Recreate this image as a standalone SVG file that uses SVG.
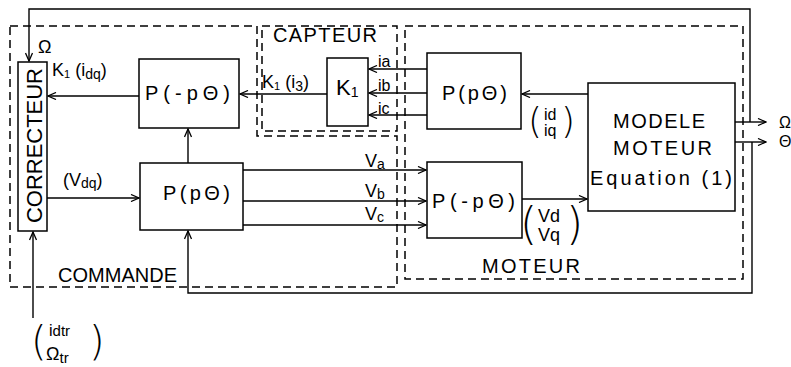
<svg xmlns="http://www.w3.org/2000/svg" width="791" height="367" viewBox="0 0 791 367" font-size="20">
<defs>
<marker id="ar" markerWidth="10" markerHeight="8" refX="9" refY="4" orient="auto" markerUnits="userSpaceOnUse"><path d="M1,0.5 L9,4 L1,7.5" fill="none" stroke="#000" stroke-width="1.3"/></marker>
</defs>
<style>
.b{fill:#fff;stroke:#000;stroke-width:1.5}
.d{fill:none;stroke:#000;stroke-width:1.5;stroke-dasharray:8 5}
.l{fill:none;stroke:#000;stroke-width:1.4}
.a{marker-end:url(#ar)}
text{font-family:"Liberation Sans",Arial,sans-serif;fill:#000}
.m{font-size:18px}
.s{font-size:16px}
.pl{font-size:36px;font-family:"DejaVu Sans","Liberation Sans",sans-serif;font-weight:200}
.pb{font-size:44px;font-family:"DejaVu Sans","Liberation Sans",sans-serif;font-weight:200}
.pc{font-size:40px;font-family:"DejaVu Sans","Liberation Sans",sans-serif;font-weight:200}
</style>
<rect width="791" height="367" fill="#fff"/>
<g id="commande">
<path class="d" d="M10,26 H257 V136 H397 V287 H10 Z"/>
<text x="58" y="282" textLength="119" lengthAdjust="spacing">COMMANDE</text>
</g>
<g id="capteur">
<rect class="d" x="262" y="26" width="135" height="105"/>
<text x="273" y="42" textLength="104" lengthAdjust="spacing">CAPTEUR</text>
</g>
<g id="moteur">
<rect class="d" x="405" y="26" width="338" height="253"/>
<text x="482" y="273" textLength="98" lengthAdjust="spacing">MOTEUR</text>
</g>
<g id="connectors">
<path class="l a" d="M750,122 V9 H29 V61"/>
<path class="l a" d="M735,122 H766"/>
<path class="l a" d="M735,142 H766"/>
<path class="l a" d="M752,142 V293 H188 V231"/>
<path class="l a" d="M33,318 V232"/>
<path class="l a" d="M139,96 H48"/>
<path class="l a" d="M327,94 H240"/>
<path class="l a" d="M427,69 H369"/>
<path class="l a" d="M427,93 H369"/>
<path class="l a" d="M427,115 H369"/>
<path class="l a" d="M588,94 H522"/>
<path class="l a" d="M47,198 H139"/>
<path class="l a" d="M188,163 V129"/>
<path class="l a" d="M243,170 H426"/>
<path class="l a" d="M243,201 H426"/>
<path class="l a" d="M243,225 H426"/>
<path class="l a" d="M522,199 H587"/>
</g>
<g id="correcteur">
<rect class="b" x="18" y="62" width="29" height="169"/>
<text transform="translate(42,223) rotate(-90)" x="0" y="0" font-size="22" textLength="155" lengthAdjust="spacing">CORRECTEUR</text>
</g>
<g id="pinv1">
<rect class="b" x="139" y="59" width="100" height="69"/>
<text x="145" y="100" textLength="85" lengthAdjust="spacing">P(-pΘ)</text>
</g>
<g id="pdir1">
<rect class="b" x="140" y="163" width="103" height="67"/>
<text x="163" y="200" textLength="67" lengthAdjust="spacing">P(pΘ)</text>
</g>
<g id="k1">
<rect class="b" x="327" y="58" width="41" height="68"/>
<text x="336" y="95" font-size="22">K<tspan font-size="14" dy="2">1</tspan></text>
</g>
<g id="pdir2">
<rect class="b" x="427" y="53" width="94" height="76"/>
<text x="442" y="100" textLength="65" lengthAdjust="spacing">P(pΘ)</text>
</g>
<g id="pinv2">
<rect class="b" x="427" y="162" width="95" height="76"/>
<text x="432" y="208" textLength="83" lengthAdjust="spacing">P(-pΘ)</text>
</g>
<g id="modele">
<rect class="b" x="588" y="83" width="147" height="128"/>
<text x="613" y="128" textLength="92" lengthAdjust="spacing">MODELE</text>
<text x="613" y="155" textLength="99" lengthAdjust="spacing">MOTEUR</text>
<text x="590" y="185" textLength="142" lengthAdjust="spacing">Equation (1)</text>
</g>
<g id="labels">
<text x="38" y="53" class="m">Ω</text>
<text x="52" y="76" class="m">K<tspan font-size="11" dy="2">1</tspan><tspan dy="-2"> (i</tspan><tspan font-size="14" dy="3">dq</tspan><tspan dy="-3">)</tspan></text>
<text x="262" y="88" class="m">K<tspan font-size="11" dy="2">1</tspan><tspan dy="-2"> (i</tspan><tspan font-size="14" dy="3">3</tspan><tspan dy="-3">)</tspan></text>
<text x="378" y="67" class="s">ia</text>
<text x="378" y="91" class="s">ib</text>
<text x="378" y="114" class="s">ic</text>
<text x="63" y="186" class="m">(V<tspan font-size="14" dy="2">dq</tspan><tspan dy="-2">)</tspan></text>
<text x="365" y="167" class="m">V<tspan font-size="14" dy="2">a</tspan></text>
<text x="365" y="197" class="m">V<tspan font-size="14" dy="2">b</tspan></text>
<text x="365" y="220" class="m">V<tspan font-size="14" dy="2">c</tspan></text>
<text x="528" y="133" class="pl">(</text>
<text x="544" y="120" class="s">id</text>
<text x="544" y="136" class="s">iq</text>
<text x="561" y="133" class="pl">)</text>
<text x="520" y="239" class="pb">(</text>
<text x="538" y="222" class="m">Vd</text>
<text x="538" y="241" class="m">Vq</text>
<text x="566" y="239" class="pb">)</text>
<text x="779" y="128" class="s">Ω</text>
<text x="779" y="147" class="s">Θ</text>
<text x="31" y="355" class="pc">(</text>
<text x="49" y="336" class="s">i<tspan font-size="15">dtr</tspan></text>
<text x="46" y="360" class="m">Ω<tspan font-size="15" dy="3">tr</tspan></text>
<text x="89" y="355" class="pc">)</text>
</g>
</svg>
